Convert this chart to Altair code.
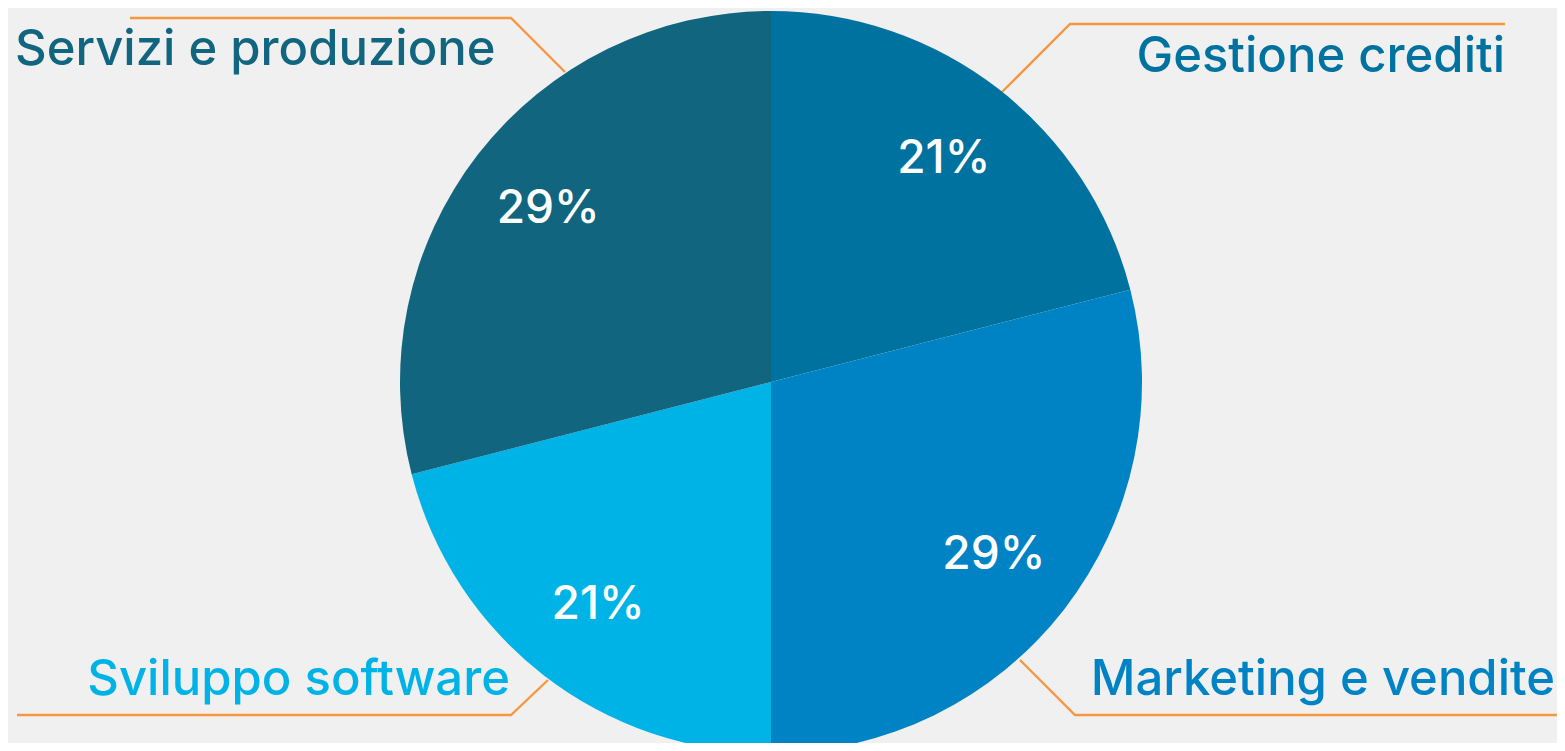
import altair as alt
import pandas as pd

# ---- data ----
categories = ["Gestione crediti", "Marketing e vendite", "Sviluppo software", "Servizi e produzione"]
shares = [21, 29, 21, 29]
pct_labels = ["21%", "29%", "21%", "29%"]
colors = ["#0072a0", "#0083c4", "#00b3e6", "#11657f"]

# ---- layout (chart pixel coordinates) ----
W, H = 1549, 735
CX, CY, R = 763, 374, 371
LABEL_R = 282
FONT = "Inter"
label_x = [1497, 1547, 502, 7]
label_y = [64, 687, 687, 57]
label_align = ["right", "right", "right", "left"]
leader_pts = [
    [(1497, 16), (1062, 16), (994, 84)],
    [(1552, 707), (1067, 707), (1012, 652)],
    [(9, 707), (503, 707), (540, 672)],
    [(122, 10), (503, 10), (557, 64)],
]

df = pd.DataFrame({"cat": categories, "share": shares, "pct": pct_labels, "idx": list(range(4))})
lab = pd.DataFrame({"cat": categories, "x": label_x, "y": label_y, "align": label_align})
lead = pd.DataFrame([
    {"cat": c, "i": i, "x": p[0], "y": p[1]}
    for c, pts in zip(categories, leader_pts) for i, p in enumerate(pts)
])

color = alt.Color("cat:N", scale=alt.Scale(domain=categories, range=colors), legend=None)
xs = alt.Scale(domain=[0, W], range=[0, W])
ys = alt.Scale(domain=[0, H], range=[0, H])

base = alt.Chart(df).encode(
    theta=alt.Theta("share:Q", stack=True),
    order=alt.Order("idx:Q"),
    x=alt.value(CX), y=alt.value(CY),
)
pie = base.mark_arc(outerRadius=R).encode(color=color)
pct = base.mark_text(radius=LABEL_R, font=FONT, fontSize=46, fontWeight=500, color="white").encode(text="pct:N")

lines = alt.Chart(lead).mark_line(color="#f7963f", strokeWidth=2.3).encode(
    x=alt.X("x:Q", scale=xs, axis=None),
    y=alt.Y("y:Q", scale=ys, axis=None),
    detail="cat:N",
    order="i:Q",
)

def label_layer(al):
    return alt.Chart(lab).transform_filter(alt.datum.align == al).mark_text(
        align=al, baseline="alphabetic", font=FONT, fontSize=49, fontWeight=500
    ).encode(
        x=alt.X("x:Q", scale=xs, axis=None),
        y=alt.Y("y:Q", scale=ys, axis=None),
        text="cat:N",
        color=color,
    )

chart = alt.layer(lines, pie, pct, label_layer("left"), label_layer("right")).properties(
    width=W, height=H, padding=0, autosize=alt.AutoSizeParams(type="none")
).configure(background="#eff0ef").configure_view(strokeWidth=0)

chart.save("out.html", embed_options={"renderer": "svg", "actions": False})
